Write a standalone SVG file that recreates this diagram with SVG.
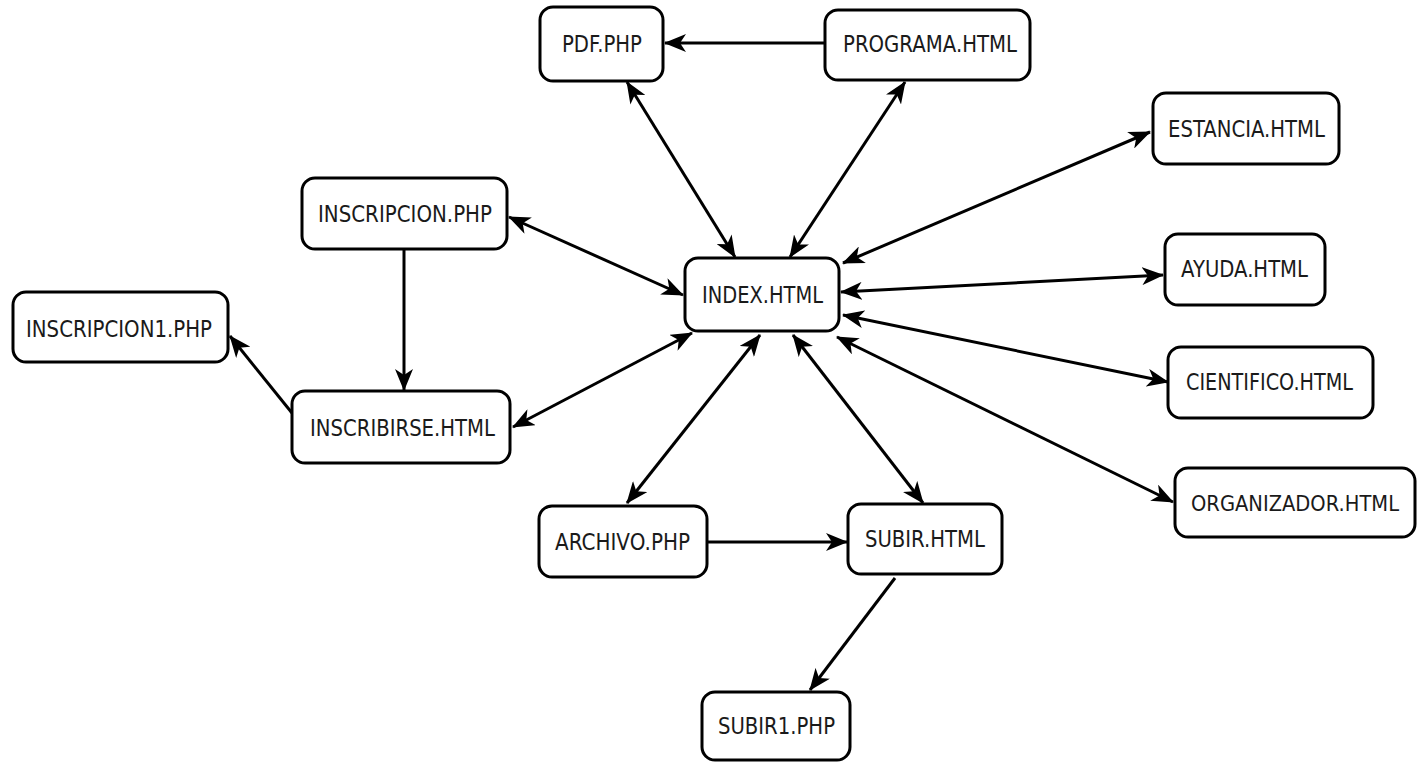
<svg xmlns="http://www.w3.org/2000/svg" width="1426" height="762" viewBox="0 0 1426 762">
<style>
.box{fill:#fff;stroke:#000;stroke-width:3}
.lbl{font-family:"DejaVu Sans","Liberation Sans",sans-serif;font-size:23px;fill:#1a1a1a}
.edge{stroke:#000;stroke-width:3;fill:none}
</style>
<defs>
<marker id="ah" viewBox="0 0 22 18" refX="21" refY="9" markerWidth="22" markerHeight="18" markerUnits="userSpaceOnUse" orient="auto-start-reverse">
<path d="M0,0 L22,9 L0,18 L6,9 z" fill="#000"/>
</marker>
</defs>
<rect width="1426" height="762" fill="#fff"/>
<g id="connectors">
<line class="edge" x1="825" y1="43" x2="665" y2="43" marker-end="url(#ah)"/>
<line class="edge" x1="627" y1="82" x2="735" y2="257" marker-start="url(#ah)" marker-end="url(#ah)"/>
<line class="edge" x1="905" y1="82" x2="790" y2="257" marker-start="url(#ah)" marker-end="url(#ah)"/>
<line class="edge" x1="1150" y1="132" x2="843" y2="263" marker-start="url(#ah)" marker-end="url(#ah)"/>
<line class="edge" x1="1163" y1="275" x2="841" y2="292" marker-start="url(#ah)" marker-end="url(#ah)"/>
<line class="edge" x1="1168" y1="382" x2="843" y2="315" marker-start="url(#ah)" marker-end="url(#ah)"/>
<line class="edge" x1="1173" y1="502" x2="837" y2="337" marker-start="url(#ah)" marker-end="url(#ah)"/>
<line class="edge" x1="509" y1="217" x2="683" y2="295" marker-start="url(#ah)" marker-end="url(#ah)"/>
<line class="edge" x1="513" y1="427" x2="692" y2="333" marker-start="url(#ah)" marker-end="url(#ah)"/>
<line class="edge" x1="404" y1="249" x2="404" y2="390" marker-end="url(#ah)"/>
<line class="edge" x1="292" y1="413" x2="230" y2="336" marker-end="url(#ah)"/>
<line class="edge" x1="627" y1="503" x2="760" y2="335" marker-start="url(#ah)" marker-end="url(#ah)"/>
<line class="edge" x1="923" y1="503" x2="793" y2="335" marker-start="url(#ah)" marker-end="url(#ah)"/>
<line class="edge" x1="707" y1="542" x2="847" y2="542" marker-end="url(#ah)"/>
<line class="edge" x1="895" y1="578" x2="810" y2="690" marker-end="url(#ah)"/>
</g>
<g id="pdf"><rect class="box" x="540" y="7" width="123" height="74" rx="13"/><text class="lbl" x="562" y="52" textLength="80" lengthAdjust="spacingAndGlyphs">PDF.PHP</text></g>
<g id="programa"><rect class="box" x="825" y="10" width="205" height="70" rx="13"/><text class="lbl" x="843" y="52" textLength="174" lengthAdjust="spacingAndGlyphs">PROGRAMA.HTML</text></g>
<g id="estancia"><rect class="box" x="1153" y="93" width="186" height="71" rx="13"/><text class="lbl" x="1168" y="137" textLength="157" lengthAdjust="spacingAndGlyphs">ESTANCIA.HTML</text></g>
<g id="inscripcion"><rect class="box" x="302" y="178" width="205" height="71" rx="13"/><text class="lbl" x="318" y="222" textLength="174" lengthAdjust="spacingAndGlyphs">INSCRIPCION.PHP</text></g>
<g id="index"><rect class="box" x="685" y="258" width="154" height="73" rx="13"/><text class="lbl" x="702" y="303" textLength="121" lengthAdjust="spacingAndGlyphs">INDEX.HTML</text></g>
<g id="ayuda"><rect class="box" x="1165" y="234" width="160" height="71" rx="13"/><text class="lbl" x="1181" y="277" textLength="127" lengthAdjust="spacingAndGlyphs">AYUDA.HTML</text></g>
<g id="inscripcion1"><rect class="box" x="13" y="292" width="215" height="70" rx="13"/><text class="lbl" x="26" y="337" textLength="186" lengthAdjust="spacingAndGlyphs">INSCRIPCION1.PHP</text></g>
<g id="cientifico"><rect class="box" x="1168" y="347" width="205" height="71" rx="13"/><text class="lbl" x="1186" y="390" textLength="167" lengthAdjust="spacingAndGlyphs">CIENTIFICO.HTML</text></g>
<g id="inscribirse"><rect class="box" x="292" y="391" width="218" height="72" rx="13"/><text class="lbl" x="310" y="436" textLength="185" lengthAdjust="spacingAndGlyphs">INSCRIBIRSE.HTML</text></g>
<g id="organizador"><rect class="box" x="1175" y="468" width="240" height="69" rx="13"/><text class="lbl" x="1295" y="511" text-anchor="middle" font-size="21" style="font-size:21px" textLength="208" lengthAdjust="spacingAndGlyphs">ORGANIZADOR.HTML</text></g>
<g id="archivo"><rect class="box" x="539" y="506" width="168" height="71" rx="13"/><text class="lbl" x="555" y="550" textLength="135" lengthAdjust="spacingAndGlyphs">ARCHIVO.PHP</text></g>
<g id="subir"><rect class="box" x="848" y="504" width="154" height="70" rx="13"/><text class="lbl" x="865" y="547" textLength="120" lengthAdjust="spacingAndGlyphs">SUBIR.HTML</text></g>
<g id="subir1"><rect class="box" x="702" y="692" width="148" height="68" rx="13"/><text class="lbl" x="718" y="734" textLength="117" lengthAdjust="spacingAndGlyphs">SUBIR1.PHP</text></g>
</svg>
